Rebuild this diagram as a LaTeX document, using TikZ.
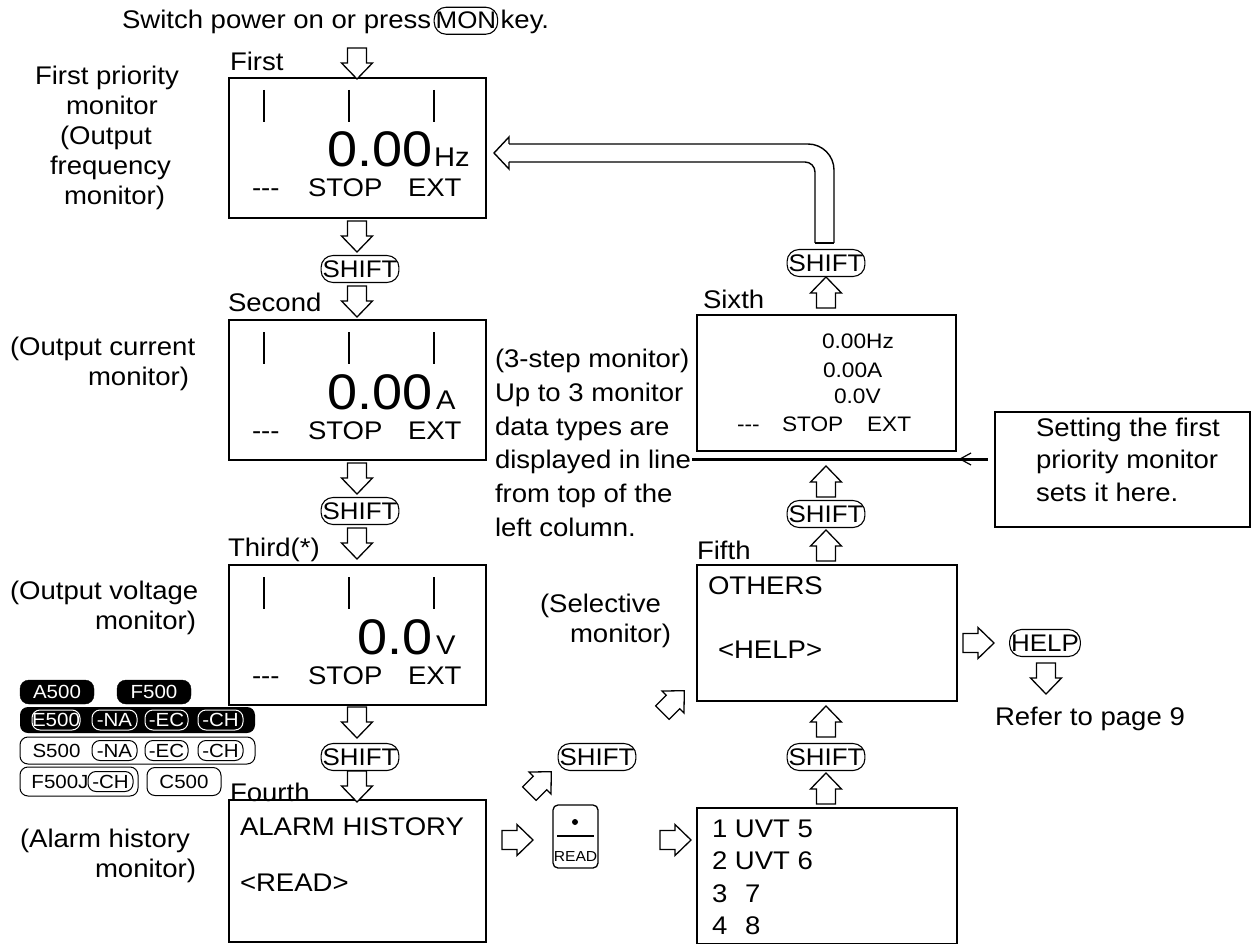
\documentclass[tikz,border=0pt]{standalone}
\usepackage{fontspec}
\setmainfont[FakeStretch=1.08]{Liberation Sans}
\usetikzlibrary{shapes.misc}
\tikzset{
  barrow/.pic={\draw[line width=1.3pt, fill=white, line join=miter] (-15,-9.5) -- (0,-9.5) -- (0,-15.5) -- (16,0) -- (0,15.5) -- (0,9.5) -- (-15,9.5) -- cycle;},
  txt/.style={anchor=base west},
  dispbox/.style={draw, line width=1.6pt, anchor=north west},
  keybox/.style={draw, line width=1.1pt, rounded corners=12pt, minimum height=27pt, inner xsep=1.5pt, font=\fontsize{24}{24}\selectfont},
  bfont/.style={font=\fontsize{19}{19}\selectfont},
  bblack/.style={bfont, fill=black, draw=black, text=white, rounded corners=9pt, minimum height=24pt},
  binner/.style={bfont, fill=black, draw=white, text=white, line width=1pt, rounded corners=8pt, minimum height=20pt},
  bout/.style={bfont, fill=white, draw=black, line width=1pt, rounded corners=8pt, minimum height=20pt},
  big/.style={anchor=base east, font=\fontsize{50}{50}\selectfont},
  unit/.style={anchor=base west, font=\fontsize{27}{27}\selectfont},
  small/.style={anchor=base west, font=\fontsize{21}{21}\selectfont},
}
\begin{document}
\begin{tikzpicture}[x=1pt,y=-1pt, every node/.style={inner sep=0pt, outer sep=0pt}, font=\fontsize{25.5}{30}\selectfont]
\useasboundingbox (0,0) rectangle (1253,944);

% top line
\node[txt] (sw) at (122,29) {Switch power on or press};
\node[keybox, anchor=base west] (mon) at ([xshift=3pt]sw.base east) {MON};
\node[txt] (keyw) at ([xshift=3pt]mon.base east) {key.};

% left labels
\node[txt] (l1a) at (35,85) {First priority};
\node[txt] (l1b) at (66,115) {monitor};
\node[txt] (l1c) at (60,145) {(Output};
\node[txt] (l1d) at (50,175) {frequency};
\node[txt] (l1e) at (64,205) {monitor)};
\node[txt] (l2a) at (10,355) {(Output current};
\node[txt] (l2b) at (88,385) {monitor)};
\node[txt] (l3a) at (10,599) {(Output voltage};
\node[txt] (l3b) at (95,629) {monitor)};
\node[txt] (l4a) at (20,847) {(Alarm history};
\node[txt] (l4b) at (95,877) {monitor)};

% box titles
\node[txt] (t1) at (230,71) {First};
\node[txt] (t2) at (228,311) {Second};
\node[txt] (t3) at (228,556) {Third(*)};
\node[txt] (t4) at (230,801) {Fourth};
\node[txt] (t6) at (703,308) {Sixth};
\node[txt] (t5) at (697,559) {Fifth};

% display boxes
\node[dispbox, minimum width=257, minimum height=140] (b1) at (229,78) {};
\node[dispbox, minimum width=257, minimum height=140] (b2) at (229,320) {};
\node[dispbox, minimum width=257, minimum height=140] (b3) at (229,565) {};
\node[dispbox, minimum width=257, minimum height=142] (b4) at (229,800) {};
\node[dispbox, minimum width=259, minimum height=136] (b6) at (697,315) {};
\node[dispbox, minimum width=260, minimum height=136] (b5) at (697,565) {};
\node[dispbox, minimum width=260, minimum height=136] (b7) at (697,808) {};
\node[dispbox, minimum width=255, minimum height=115] (note) at (995,412) {};

\foreach \t in {78,320,565}{
  \foreach \x in {264,349,434}{
    \draw[line width=1.6pt] (\x,\t+12) -- (\x,\t+44);
  }
  \node[txt] at (252,\t+119) {-{}-{}-};
  \node[txt] at (308,\t+119) {STOP};
  \node[txt] at (408,\t+119) {EXT};
}
\node[big] (n1) at (433,167) {0.00};
\node[unit] (u1) at (434,167) {Hz};
\node[big] (n2) at (433,409) {0.00};
\node[unit] (u2) at (436,409) {A};
\node[big] (n3) at (433,654) {0.0};
\node[unit] (u3) at (436,654) {V};

% fourth box
\node[txt] (ah) at (240,835) {ALARM HISTORY};
\node[txt] (rd) at (240,891) {<READ>};

% sixth box
\node[small] (s1) at (822,348) {0.00Hz};
\node[small] (s2) at (823,377) {0.00A};
\node[small] (s3) at (834,403) {0.0V};
\node[small] (s4) at (737,431) {-{}-{}-};
\node[small] (s5) at (782,431) {STOP};
\node[small] (s6) at (867,431) {EXT};

% fifth box
\node[txt] (ot) at (708,594) {OTHERS};
\node[txt] (hp) at (718,658) {<HELP>};

% alarm list box
\node[txt] (r1) at (712,837) {1 UVT 5};
\node[txt] (r2) at (712,869) {2 UVT 6};
\node[txt] (r3) at (712,902) {3};
\node[txt] (r3b) at (745,902) {7};
\node[txt] (r4) at (712,934) {4};
\node[txt] (r4b) at (745,934) {8};

% note
\node[txt] (nt1) at (1036,436) {Setting the first};
\node[txt] (nt2) at (1036,468) {priority monitor};
\node[txt] (nt3) at (1036,501) {sets it here.};

% middle text
\node[txt] (m1) at (495,367) {(3-step monitor)};
\node[txt] (m2) at (495,401) {Up to 3 monitor};
\node[txt] (m3) at (495,435) {data types are};
\node[txt] (m4) at (495,468) {displayed in line};
\node[txt] (m5) at (495,502) {from top of the};
\node[txt] (m6) at (495,536) {left column.};
\node[txt] (sel1) at (540,612) {(Selective};
\node[txt] (sel2) at (570,642) {monitor)};
\node[txt] (ref) at (995,725) {Refer to page 9};

% keys
\node[keybox] (k1) at (360,269) {SHIFT};
\node[keybox] (k2) at (360,511) {SHIFT};
\node[keybox] (k3) at (360,757) {SHIFT};
\node[keybox] (k4) at (826,263) {SHIFT};
\node[keybox] (k5) at (826,514) {SHIFT};
\node[keybox] (k6) at (826,757) {SHIFT};
\node[keybox] (k7) at (597,757) {SHIFT};
\node[keybox] (help) at (1045,643) {HELP};

% READ key
\node[draw, line width=1.3pt, rounded corners=5pt, minimum width=45, minimum height=63, anchor=north west] (readkey) at (553,805) {};
\fill (575,822) circle (3);
\draw[line width=1.2pt] (557,836) -- (594,836);
\node[anchor=base, font=\fontsize{14.5}{15}\selectfont] (readtxt) at (575.5,861) {READ};

% block arrows
\foreach \y in {63,236,301,478,543,722,786}{\pic[rotate=-90] at (357,\y) {barrow};}
\foreach \y in {293,482,546,722,789}{\pic[rotate=90] at (826,\y) {barrow};}
\pic at (517,840) {barrow};
\pic at (675,840) {barrow};
\pic at (978,643) {barrow};
\pic[rotate=-90] at (1046,678) {barrow};
\pic[rotate=45] at (673,702) {barrow};
\pic[rotate=45] at (540,783) {barrow};

% bent pipe arrow from SHIFT to first box
\draw[line width=1.4pt, rounded corners=26pt] (834,243) -- (834,144) -- (509,144);
\draw[line width=1.4pt, line join=miter] (509,144) -- (509,137) -- (494,153) -- (509,169) -- (509,162);
\draw[line width=1.4pt, rounded corners=10pt] (509,162) -- (815,162) -- (815,243);
\draw[line width=1.4pt] (815,243) -- (834,243);

% line under sixth box with pointer from note
\coordinate (lineL) at (692,459);
\coordinate (lineR) at (988,459);
\draw[line width=3pt] (lineL) -- (lineR);
\draw[line width=1.2pt] (971,453) -- (960,459) -- (971,465);

% badges
\node[bblack, minimum width=74] (a500) at (57,692) {A500};
\node[bblack, minimum width=74] (f500) at (154,692) {F500};
\node[fill=black, rounded corners=8pt, minimum width=235, minimum height=26] (row2) at (137.5,720) {};
\node[binner, minimum width=48] (e500) at (56,720) {E500};
\node[binner, minimum width=45] (na1) at (114.5,720) {-NA};
\node[binner, minimum width=43] (ec1) at (166.5,720) {-EC};
\node[binner, minimum width=45] (ch1) at (220.5,720) {-CH};
\node[draw, line width=1pt, rounded corners=8pt, minimum width=235, minimum height=27] (row3) at (137.5,750.5) {};
\node[bfont] (s500) at (56.5,750.5) {S500};
\node[bout, minimum width=45] (na2) at (114.5,750.5) {-NA};
\node[bout, minimum width=43] (ec2) at (166.5,750.5) {-EC};
\node[bout, minimum width=45] (ch2) at (220.5,750.5) {-CH};
\node[draw, line width=1pt, rounded corners=8pt, minimum width=118, minimum height=29] (row4) at (79,781.5) {};
\node[bfont] (f500j) at (60,781.5) {F500J};
\node[bout, minimum width=45] (ch3) at (110.5,781.5) {-CH};
\node[bout, minimum width=74, minimum height=28] (c500) at (184,781.5) {C500};
\end{tikzpicture}
\end{document}
